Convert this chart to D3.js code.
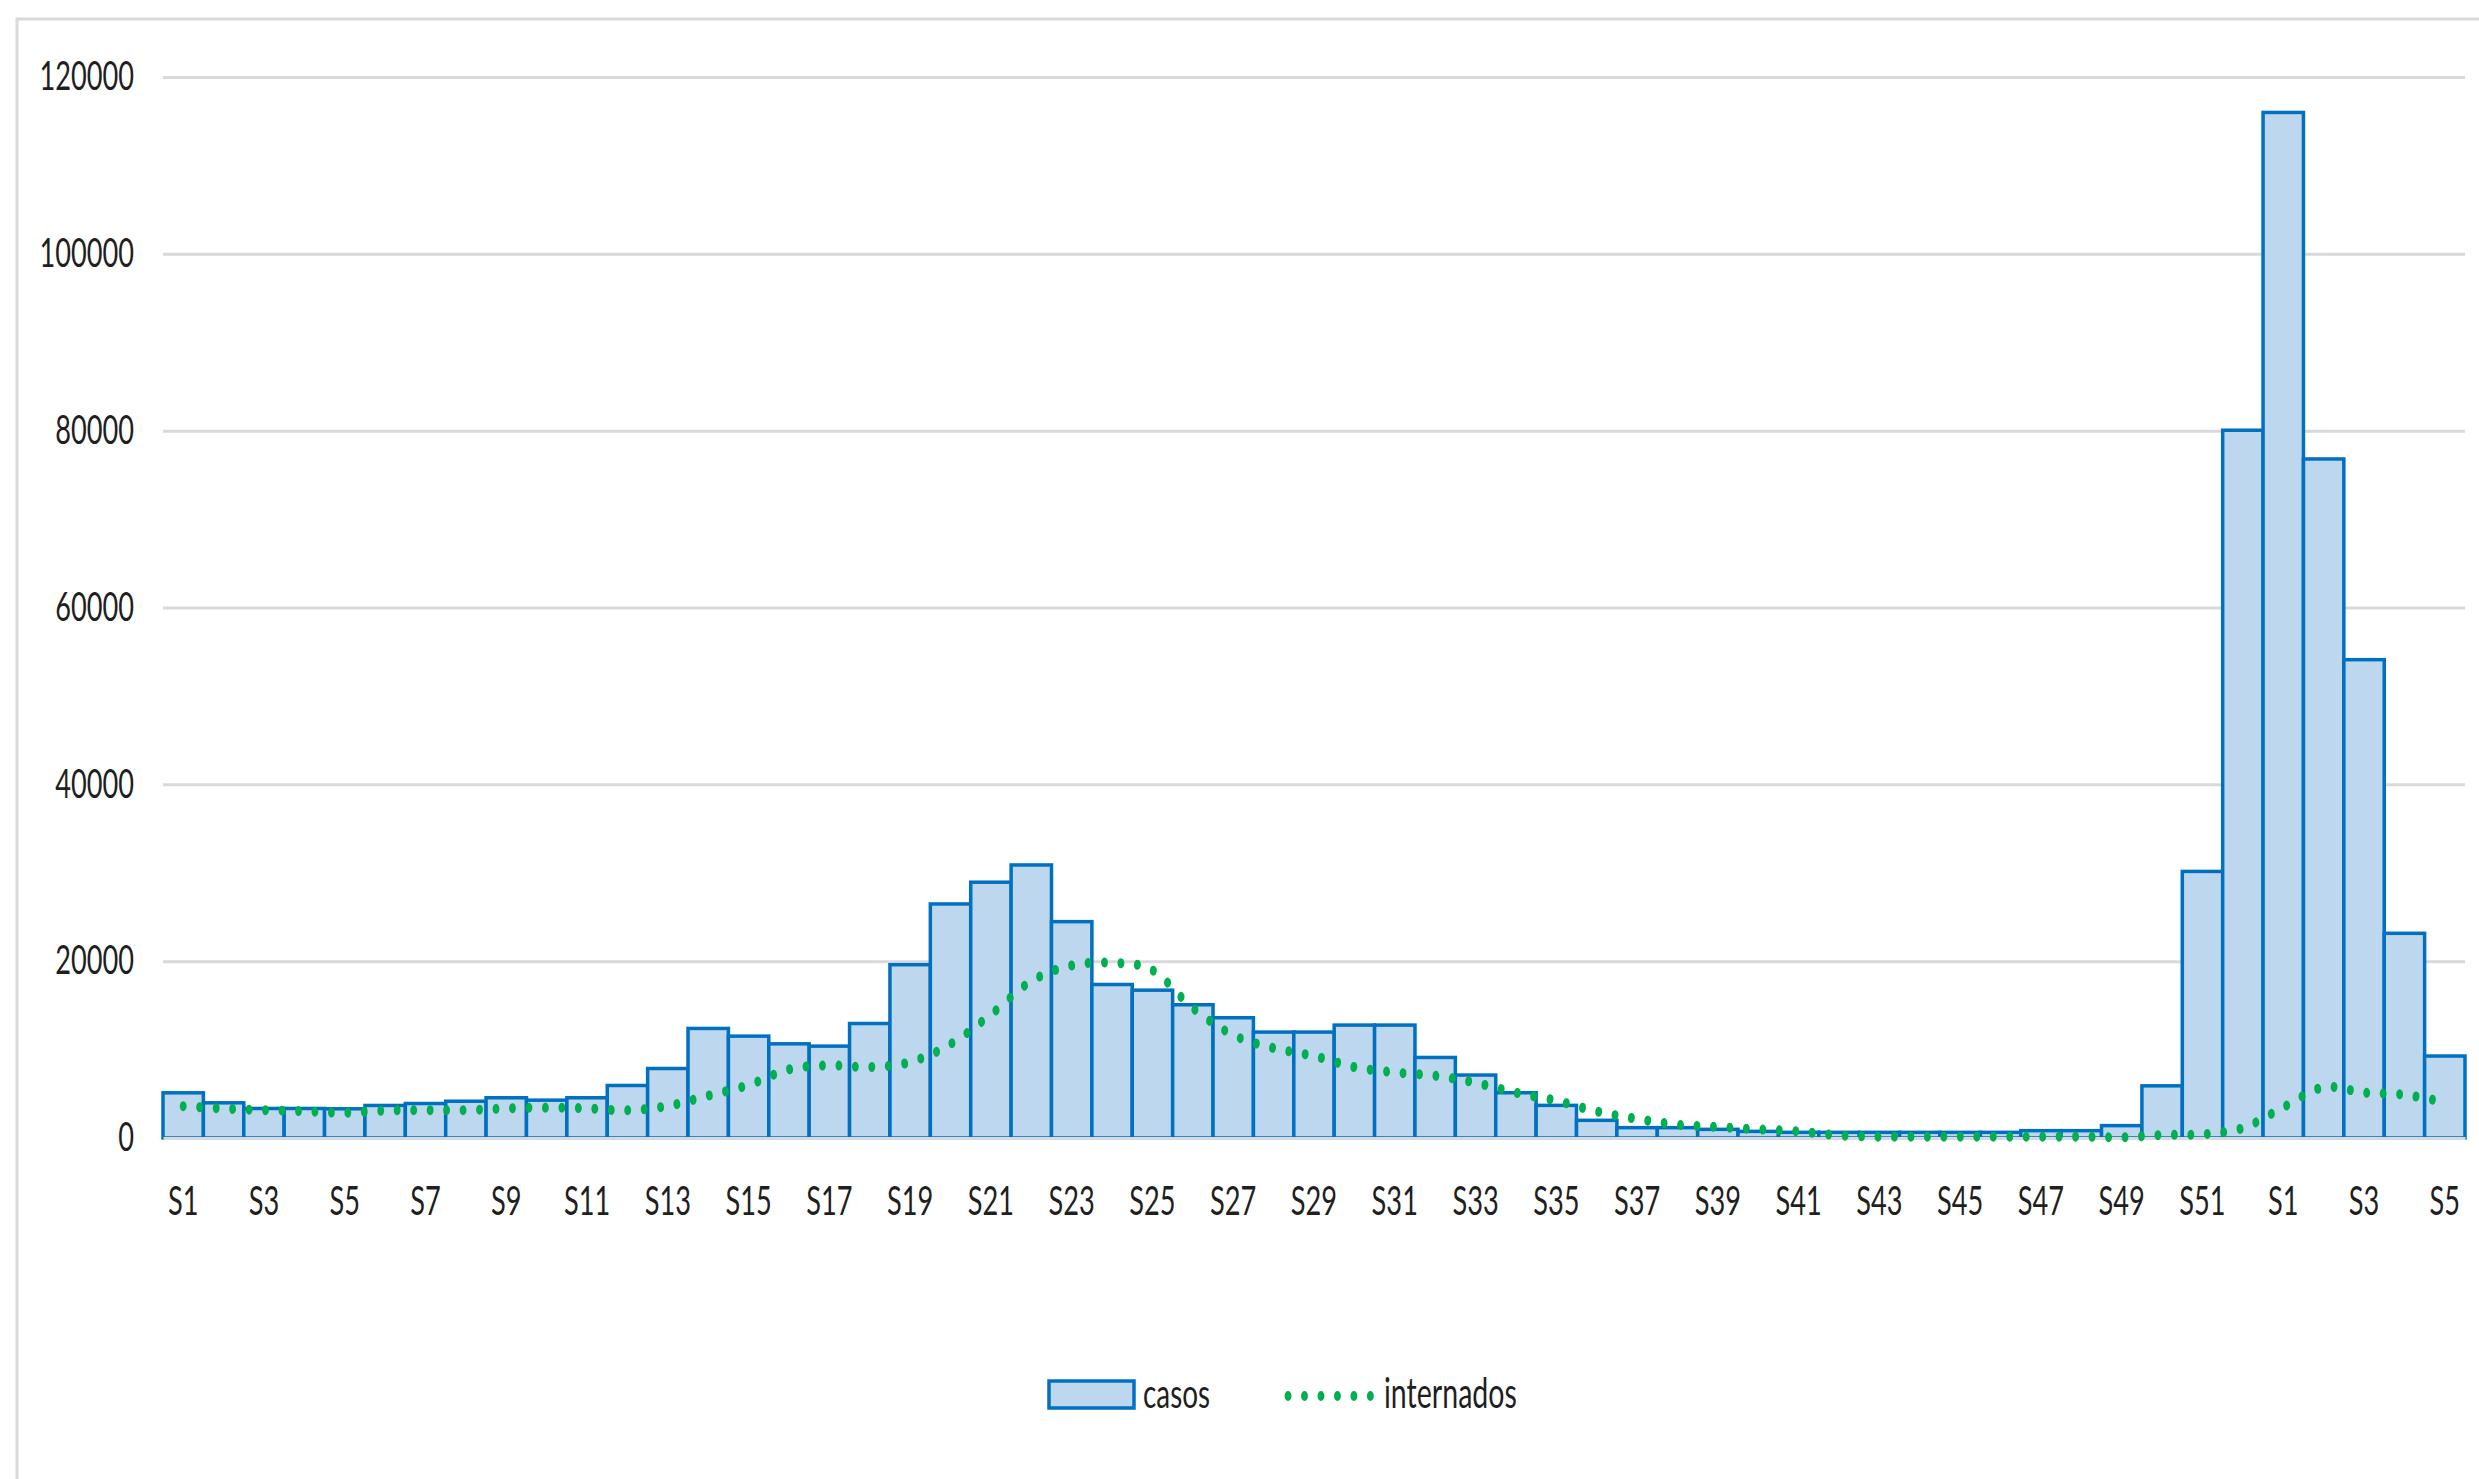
<!DOCTYPE html>
<html>
<head>
<meta charset="utf-8">
<script src="https://cdn.jsdelivr.net/npm/d3@7"></script>
<style>
  html, body { margin: 0; padding: 0; background: #ffffff; }
  svg { display: block; }
  text { font-family: Lato, "Noto Sans", sans-serif; fill: #1f1f1f; }
</style>
</head>
<body>
<svg id="chart" width="2479" height="1479"></svg>
<script>
// ---- data ----
const weeks = [
  "S1","S2","S3","S4","S5","S6","S7","S8","S9","S10",
  "S11","S12","S13","S14","S15","S16","S17","S18","S19","S20",
  "S21","S22","S23","S24","S25","S26","S27","S28","S29","S30",
  "S31","S32","S33","S34","S35","S36","S37","S38","S39","S40",
  "S41","S42","S43","S44","S45","S46","S47","S48","S49","S50",
  "S51","S52","S1","S2","S3","S4","S5"
];
const casos = [
  5110, 3980, 3340, 3340, 3300, 3680, 3900, 4160, 4550, 4280,
  4550, 5940, 7860, 12390, 11520, 10650, 10390, 12950, 19600, 26470,
  28930, 30880, 24470, 17360, 16720, 15070, 13600, 11980, 11980, 12770,
  12770, 9110, 7120, 5120, 3690, 2000, 1170, 1170, 980, 750,
  640, 640, 640, 640, 640, 640, 830, 830, 1400, 5900,
  30150, 80050, 115990, 76800, 54100, 23150, 9270
];
const internados = [
  3600, 3330, 3150, 3030, 2850, 3100, 3150, 3150, 3350, 3430,
  3350, 3130, 3620, 4780, 6000, 7760, 8210, 8020, 8590, 10620,
  13970, 17740, 19510, 19810, 18980, 14690, 11640, 10170, 9270, 8020,
  7420, 7040, 6250, 5120, 4220, 3010, 2150, 1510, 1240, 980,
  750, 300, 150, 150, 150, 150, 150, 150, 80, 340,
  420, 1130, 3470, 5740, 5130, 4900, 4040
];
const yTicks = [0, 20000, 40000, 60000, 80000, 100000, 120000];
const seriesNames = ["casos", "internados"];

// ---- layout ----
const SX = 0.68;            // horizontal compression of the drawing
const plotL = 163, plotR = 2465, plotT = 77, plotB = 1138;
const barFill = "#BDD7EE", barStroke = "#0070C0", lineColor = "#00B050", gridColor = "#D9D9D9";
const dotGap = 16.4;

const svg = d3.select("#chart");
svg.append("rect").attr("width", 2479).attr("height", 1479).attr("fill", "#fff");
// outer chart border
svg.append("rect").attr("x", 17).attr("y", 19).attr("width", 2600).attr("height", 1600)
  .attr("fill", "none").attr("stroke", gridColor).attr("stroke-width", 3);

const x = d3.scaleBand().domain(d3.range(weeks.length)).range([plotL, plotR]).paddingInner(0).paddingOuter(0);
const y = d3.scaleLinear().domain([0, 120000]).range([plotB, plotT]);

// y axis + gridlines
const gy = svg.append("g").attr("transform", `translate(${plotL},0)`)
  .call(d3.axisLeft(y).tickValues(yTicks).tickSize(-(plotR - plotL)).tickPadding(29).tickFormat(d => String(d)));
gy.select(".domain").remove();
gy.selectAll(".tick line").attr("stroke", gridColor).attr("stroke-width", 3);
gy.selectAll(".tick text")
  .attr("font-size", 40)
  .attr("fill", "#1f1f1f")
  .attr("x", -29 / SX)
  .attr("transform", `scale(${SX},1)`);

// bars
svg.append("g").selectAll("rect").data(casos).join("rect")
  .attr("x", (d, i) => x(i))
  .attr("width", x.bandwidth())
  .attr("y", d => y(d))
  .attr("height", d => y(0) - y(d))
  .attr("fill", barFill)
  .attr("stroke", barStroke)
  .attr("stroke-width", 3.5);

// x axis (zero line drawn over bars)
const gx = svg.append("g").attr("transform", `translate(0,${plotB})`)
  .call(d3.axisBottom(x).tickValues(d3.range(0, weeks.length, 2)).tickSize(0).tickSizeOuter(0)
    .tickPadding(49).tickFormat(i => weeks[i]));
gx.select(".domain").attr("stroke", gridColor).attr("stroke-width", 3);
gx.selectAll(".tick text")
  .attr("font-size", 40)
  .attr("fill", "#1f1f1f")
  .attr("transform", `scale(${SX},1)`);

// internados line (smoothed, round dotted) drawn in a horizontally compressed frame
const line = d3.line()
  .x((d, i) => (x(i) + x.bandwidth() / 2) / SX)
  .y(d => y(d))
  .curve(d3.curveCardinal.tension(0));
svg.append("g").attr("transform", `scale(${SX},1)`)
  .append("path").datum(internados)
  .attr("d", line)
  .attr("fill", "none")
  .attr("stroke", lineColor)
  .attr("stroke-width", 10)
  .attr("stroke-linecap", "round")
  .attr("stroke-dasharray", `0.1 ${dotGap / SX}`);

// legend
const lg = svg.append("g");
lg.append("rect").attr("x", 1049).attr("y", 1381).attr("width", 85).attr("height", 27)
  .attr("fill", barFill).attr("stroke", barStroke).attr("stroke-width", 3.5);
lg.append("text").attr("transform", `translate(1143,1408) scale(${SX},1)`)
  .attr("font-size", 41).text(seriesNames[0]);
lg.append("g").attr("transform", `scale(${SX},1)`)
  .append("path").attr("d", `M${1288 / SX},1396H${1372 / SX}`)
  .attr("stroke", lineColor).attr("stroke-width", 10)
  .attr("stroke-linecap", "round").attr("stroke-dasharray", `0.1 ${dotGap / SX}`);
lg.append("text").attr("transform", `translate(1384,1408) scale(${SX},1)`)
  .attr("font-size", 42).text(seriesNames[1]);
</script>
</body>
</html>
